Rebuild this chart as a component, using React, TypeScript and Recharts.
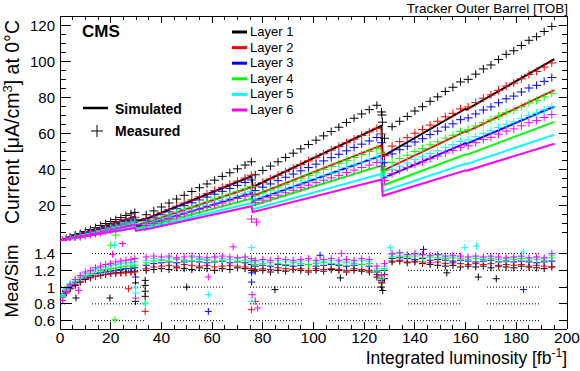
import { ComposedChart, Line, Scatter, XAxis, YAxis, ReferenceLine } from 'recharts';

const FONT = '"Liberation Sans", Arial, Helvetica, sans-serif';

const layerNames = ['Layer 1', 'Layer 2', 'Layer 3', 'Layer 4', 'Layer 5', 'Layer 6'];
const layerColors = ['#000000', '#ff0000', '#0000ff', '#00ff00', '#00ffff', '#ff00ff'];

// axis ticks
const lumiTicks = [0, 5, 10, 15, 20, 25, 30, 35, 40, 45, 50, 55, 60, 65, 70, 75, 80, 85, 90, 95, 100,
  105, 110, 115, 120, 125, 130, 135, 140, 145, 150, 155, 160, 165, 170, 175, 180, 185, 190, 195, 200];
const lumiLabels = [0, 20, 40, 60, 80, 100, 120, 140, 160, 180, 200];
const currentTicks = [0, 5, 10, 15, 20, 25, 30, 35, 40, 45, 50, 55, 60, 65, 70, 75, 80, 85, 90, 95, 100,
  105, 110, 115, 120, 125];
const currentLabels = [20, 40, 60, 80, 100, 120];
const ratioTicks = [0.6, 0.8, 1, 1.2, 1.4];
const ratioGrid = [0.6, 0.8, 1, 1.2, 1.4];

// simulated current (sawtooth from annealing periods)
const simLumi = [0, 6, 6.2, 29.5, 30, 33, 33.3, 75.5, 76, 126.8, 127.3, 160, 160.3, 195];
const simLayer1 = [0, 3.5, 3.2, 13.5, 10.5, 12.2, 11.8, 36, 30, 64, 47, 73.5, 73, 101];
const simLayer2 = [0, 2.9, 2.7, 11.2, 8.7, 10.1, 9.8, 29.9, 24.9, 53.1, 39, 61, 60.6, 83.8];
const simLayer3 = [0, 2.6, 2.4, 10, 7.8, 9, 8.7, 26.6, 22.2, 47.4, 34.8, 54.4, 54, 74.7];
const simLayer4 = [0, 2.3, 2.1, 8.8, 6.9, 8, 7.7, 23.6, 19.7, 41.9, 30.8, 48.1, 47.8, 66.2];
const simLayer5 = [0, 2, 1.9, 7.9, 6.1, 7.1, 6.9, 21.1, 17.6, 37.4, 27.5, 43, 42.7, 59.1];
const simLayer6 = [0, 1.9, 1.7, 7.2, 5.6, 6.5, 6.3, 19.3, 16.1, 34.2, 25.1, 39.3, 39, 54];

// measured current
const measLumi = [1, 2.5, 4, 6, 8, 10, 12, 14, 16, 18, 20, 22, 24, 26, 28, 29.5,
  34, 37, 40, 43, 46, 49, 52, 55, 58, 61, 64, 67, 70, 73, 75.5,
  77, 80, 83, 86, 89, 92, 95, 98, 101, 104, 107, 110, 113, 116, 119, 122, 125, 126.8,
  128, 131, 134, 137, 140, 143, 146, 149, 152, 155, 158, 161, 164, 167, 170, 173, 176, 179, 182, 185, 188, 191, 194];
const measLayer1 = [0.5, 1.35, 2.2, 3.4, 4.2, 5.3, 6.4, 7.4, 8.6, 9.7, 10.8, 11.9, 13.0, 14.2, 15.1, 15.9,
  14.6, 16.7, 18.9, 21.1, 23.3, 25.4, 27.5, 29.6, 31.7, 33.8, 35.9, 37.9, 40.1, 42.2, 44.0,
  36.8, 39.2, 41.6, 44.0, 46.4, 48.8, 51.2, 53.6, 56.0, 58.4, 60.8, 63.2, 65.8, 68.2, 70.6, 73.0, 75.4, 71.7,
  57.1, 63.5, 66.5, 69.2, 72.2, 74.6, 77.6, 80.1, 83.1, 85.4, 88.4, 89.8, 92.7, 95.6, 97.8, 100.8, 103.7, 105.7, 108.6, 111.5, 113.5, 116.4, 119.2];
const measLayer2 = [0.4, 1.1, 1.8, 2.8, 3.5, 4.4, 5.3, 6.1, 7.1, 8.1, 9.0, 9.9, 10.8, 11.8, 12.5, 13.2,
  12.1, 13.9, 15.7, 17.5, 19.3, 21.1, 22.8, 24.6, 26.3, 28.1, 29.8, 31.5, 33.3, 35.0, 36.5,
  30.5, 32.5, 34.5, 36.5, 38.5, 40.5, 42.5, 44.5, 46.5, 48.5, 50.5, 52.5, 54.6, 56.6, 58.6, 60.6, 62.6, 59.5,
  47.4, 52.7, 55.2, 57.4, 59.9, 61.9, 64.4, 66.5, 69.0, 70.9, 73.4, 74.5, 76.9, 79.3, 81.2, 83.7, 86.1, 87.7, 90.1, 92.5, 94.2, 96.6, 98.9];
const measLayer3 = [0.4, 1.0, 1.7, 2.6, 3.2, 4.0, 4.8, 5.6, 6.5, 7.3, 8.2, 9.0, 9.8, 10.7, 11.4, 12.0,
  11.2, 12.9, 14.6, 16.2, 17.9, 19.6, 21.2, 22.8, 24.4, 26.0, 27.6, 29.2, 30.9, 32.5, 33.9,
  28.0, 29.9, 31.7, 33.5, 35.4, 37.2, 39.0, 40.8, 42.7, 44.5, 46.3, 48.2, 50.1, 52.0, 53.8, 55.6, 57.5, 54.6,
  43.5, 48.4, 50.7, 52.7, 55.0, 56.8, 59.1, 61.0, 63.3, 65.1, 67.4, 68.4, 70.6, 72.8, 74.5, 76.8, 79.0, 80.5, 82.8, 85.0, 86.5, 88.7, 90.8];
const measLayer4 = [0.3, 0.9, 1.5, 2.3, 2.8, 3.6, 4.3, 5.0, 5.8, 6.5, 7.3, 8.0, 8.8, 9.6, 10.2, 10.7,
  10.0, 11.5, 13.0, 14.5, 16.0, 17.5, 18.9, 20.4, 21.8, 23.3, 24.7, 26.1, 27.6, 29.0, 30.3,
  25.1, 26.7, 28.3, 30.0, 31.6, 33.2, 34.9, 36.5, 38.1, 39.8, 41.4, 43.0, 44.8, 46.4, 48.1, 49.7, 51.3, 48.8,
  39.3, 43.7, 45.8, 47.6, 49.7, 51.3, 53.4, 55.1, 57.2, 58.8, 60.8, 61.8, 63.8, 65.8, 67.3, 69.4, 71.3, 72.7, 74.7, 76.7, 78.1, 80.1, 82.0];
const measLayer5 = [0.3, 0.8, 1.4, 2.1, 2.6, 3.3, 3.9, 4.5, 5.3, 6.0, 6.6, 7.3, 8.0, 8.7, 9.3, 9.8,
  9.1, 10.5, 11.8, 13.2, 14.6, 15.9, 17.2, 18.5, 19.8, 21.2, 22.5, 23.7, 25.1, 26.4, 27.5,
  22.8, 24.3, 25.8, 27.3, 28.8, 30.3, 31.7, 33.2, 34.7, 36.2, 37.7, 39.2, 40.8, 42.3, 43.8, 45.3, 46.7, 44.5,
  35.7, 39.8, 41.6, 43.3, 45.2, 46.7, 48.6, 50.1, 52.0, 53.5, 55.3, 56.2, 58.0, 59.8, 61.2, 63.1, 64.9, 66.2, 68.0, 69.8, 71.1, 72.9, 74.6];
const measLayer6 = [0.3, 0.8, 1.2, 1.9, 2.4, 3.0, 3.6, 4.2, 4.9, 5.5, 6.1, 6.7, 7.4, 8.1, 8.6, 9.0,
  8.6, 9.8, 11.1, 12.4, 13.7, 15.0, 16.2, 17.4, 18.7, 19.9, 21.1, 22.3, 23.6, 24.9, 25.9,
  21.3, 22.7, 24.0, 25.4, 26.8, 28.2, 29.6, 31.0, 32.4, 33.8, 35.1, 36.5, 38.0, 39.4, 40.8, 42.2, 43.6, 41.4,
  33.6, 37.4, 39.2, 40.8, 42.5, 43.9, 45.7, 47.2, 48.9, 50.3, 52.1, 52.9, 54.6, 56.3, 57.6, 59.4, 61.1, 62.3, 64.0, 65.7, 66.9, 68.6, 70.2];
// [lumi, current, layer index]
const measOutliers = [[22, 3.3, 3], [75.5, 12.2, 5], [77.5, 10.5, 5], [127, 70, 0], [127.2, 66, 0]];

// measured / simulated
const ratioLayer1 = [0.88, 0.93, 0.98, 1.02, 1.06, 1.09, 1.11, 1.13, 1.14, 1.15, 1.16, 1.17, 1.17, 1.18, 1.18, 1.19,
  1.2, 1.21, 1.22, 1.21, 1.23, 1.22, 1.21, 1.23, 1.22, 1.2, 1.22, 1.21, 1.23, 1.22, 1.2,
  1.19, 1.2, 1.18, 1.2, 1.19, 1.21, 1.2, 1.18, 1.2, 1.19, 1.21, 1.2, 1.18, 1.2, 1.19, 1.18, 1.12, 1.0,
  1.1, 1.3, 1.31, 1.29, 1.3, 1.28, 1.27, 1.26, 1.25, 1.26, 1.24, 1.25, 1.24, 1.25, 1.23, 1.25, 1.24, 1.23, 1.25, 1.24, 1.23, 1.22, 1.24];
const ratioLayer2 = [0.9, 0.95, 0.99, 1.03, 1.07, 1.1, 1.12, 1.13, 1.14, 1.15, 1.16, 1.16, 1.17, 1.17, 1.18, 1.18,
  1.22, 1.24, 1.25, 1.26, 1.25, 1.27, 1.26, 1.25, 1.26, 1.24, 1.25, 1.26, 1.25, 1.24, 1.22,
  1.21, 1.22, 1.21, 1.23, 1.22, 1.21, 1.22, 1.2, 1.22, 1.21, 1.22, 1.21, 1.2, 1.22, 1.21, 1.2, 1.15, 1.06,
  1.15, 1.31, 1.32, 1.3, 1.31, 1.3, 1.29, 1.3, 1.28, 1.29, 1.28, 1.27, 1.28, 1.27, 1.28, 1.26, 1.27, 1.26, 1.27, 1.25, 1.26, 1.25, 1.24];
const ratioLayer3 = [0.92, 0.97, 1.01, 1.05, 1.09, 1.12, 1.14, 1.16, 1.17, 1.18, 1.19, 1.2, 1.21, 1.22, 1.22, 1.23,
  1.26, 1.28, 1.29, 1.3, 1.29, 1.3, 1.31, 1.3, 1.29, 1.3, 1.31, 1.29, 1.3, 1.29, 1.27,
  1.25, 1.26, 1.25, 1.27, 1.26, 1.25, 1.26, 1.27, 1.25, 1.26, 1.27, 1.26, 1.25, 1.26, 1.27, 1.25, 1.18, 1.08,
  1.2, 1.34, 1.35, 1.34, 1.33, 1.34, 1.32, 1.33, 1.32, 1.31, 1.32, 1.31, 1.3, 1.31, 1.32, 1.3, 1.31, 1.3, 1.31, 1.3, 1.29, 1.3, 1.31];
const ratioLayer4 = [0.9, 0.98, 1.03, 1.07, 1.11, 1.14, 1.16, 1.18, 1.2, 1.21, 1.22, 1.23, 1.24, 1.25, 1.25, 1.26,
  1.29, 1.31, 1.32, 1.31, 1.33, 1.32, 1.31, 1.33, 1.32, 1.31, 1.32, 1.33, 1.31, 1.32, 1.3,
  1.27, 1.28, 1.29, 1.28, 1.27, 1.29, 1.28, 1.27, 1.28, 1.29, 1.28, 1.27, 1.29, 1.28, 1.27, 1.28, 1.2, 1.1,
  1.22, 1.36, 1.37, 1.36, 1.37, 1.35, 1.36, 1.35, 1.34, 1.35, 1.34, 1.33, 1.34, 1.33, 1.34, 1.33, 1.32, 1.33, 1.34, 1.32, 1.33, 1.32, 1.35];
const ratioLayer5 = [0.88, 0.97, 1.04, 1.09, 1.13, 1.16, 1.19, 1.21, 1.23, 1.24, 1.26, 1.27, 1.28, 1.29, 1.29, 1.3,
  1.32, 1.34, 1.33, 1.35, 1.34, 1.33, 1.35, 1.34, 1.33, 1.35, 1.34, 1.33, 1.34, 1.35, 1.32,
  1.3, 1.31, 1.3, 1.32, 1.31, 1.3, 1.31, 1.32, 1.3, 1.31, 1.32, 1.3, 1.31, 1.3, 1.32, 1.31, 1.22, 1.12,
  1.25, 1.39, 1.4, 1.38, 1.39, 1.38, 1.37, 1.38, 1.36, 1.37, 1.36, 1.35, 1.36, 1.35, 1.36, 1.35, 1.34, 1.35, 1.36, 1.34, 1.35, 1.34, 1.38];
const ratioLayer6 = [0.84, 0.95, 1.03, 1.09, 1.14, 1.18, 1.2, 1.23, 1.25, 1.27, 1.28, 1.3, 1.31, 1.32, 1.33, 1.34,
  1.36, 1.37, 1.36, 1.37, 1.35, 1.36, 1.37, 1.36, 1.35, 1.36, 1.37, 1.36, 1.35, 1.36, 1.34,
  1.32, 1.33, 1.32, 1.34, 1.33, 1.32, 1.33, 1.34, 1.32, 1.33, 1.34, 1.32, 1.33, 1.32, 1.34, 1.33, 1.25, 1.14,
  1.28, 1.4, 1.41, 1.39, 1.4, 1.39, 1.38, 1.39, 1.37, 1.38, 1.37, 1.36, 1.37, 1.36, 1.37, 1.36, 1.35, 1.36, 1.37, 1.35, 1.36, 1.35, 1.4];
// [lumi, ratio, layer index]
const ratioOutliers = [
  [20, 1.5, 3], [21.5, 1.5, 4], [24.6, 1.52, 5], [20.7, 1.39, 5], [27, 0.98, 1], [19.7, 0.87, 0],
  [6.3, 0.87, 0], [7.3, 0.96, 5], [21.7, 0.61, 3],
  [29.8, 1.12, 2], [29.8, 1.05, 0], [29.8, 0.99, 4], [29.8, 0.93, 4], [29.8, 0.87, 5], [29.8, 0.83, 0],
  [33.6, 1.08, 0], [33.6, 1.02, 0], [33.6, 0.95, 0], [33.6, 0.89, 0], [33.6, 0.81, 3], [33.6, 0.8, 4], [33.6, 0.71, 1],
  [58.5, 1.12, 5], [58.5, 0.91, 4], [58.5, 0.71, 2], [50, 1.0, 0],
  [75.6, 1.47, 4], [75.6, 1.17, 2], [75.6, 1.06, 2], [75.8, 0.91, 5], [75.6, 0.83, 4], [77, 0.83, 1],
  [78, 0.75, 5], [75.5, 0.73, 1], [68.3, 1.48, 5], [84.8, 0.97, 0],
  [102.6, 1.38, 2], [111, 1.4, 5], [110.6, 1.11, 0], [127, 1.05, 0], [127.3, 0.96, 0], [127, 1.1, 1],
  [130.3, 1.47, 4], [143.4, 1.45, 2], [152.6, 1.17, 0], [165, 1.12, 0], [159.7, 1.47, 4], [164.3, 1.49, 4],
  [172.1, 1.1, 0], [182.8, 0.97, 2], [182.7, 1.42, 4],
];

const simLayers = [simLayer1, simLayer2, simLayer3, simLayer4, simLayer5, simLayer6];
const measLayers = [measLayer1, measLayer2, measLayer3, measLayer4, measLayer5, measLayer6];
const ratioLayers = [ratioLayer1, ratioLayer2, ratioLayer3, ratioLayer4, ratioLayer5, ratioLayer6];

const toPoints = (xs: number[], ys: number[]) =>
  xs.map((x, i) => ({ x, y: ys[i] })).filter((p) => p.y !== undefined);

const outlierPoints = (rows: number[][], layer: number) =>
  rows.filter((r) => r[2] === layer).map((r) => ({ x: r[0], y: r[1] }));

const crossShape = (hw: number, hh: number, color: string) => (props: any) => {
  const { cx, cy } = props;
  if (cx == null || cy == null) return <g />;
  return (
    <path
      d={`M${cx - hw},${cy}H${cx + hw}M${cx},${cy - hh}V${cy + hh}`}
      stroke={color}
      strokeWidth={1}
      fill="none"
    />
  );
};

// ROOT-like ticks pointing into the frame
const xTick = (side: 'top' | 'bottom', majorLen: number, minorLen: number, labels: boolean) => (props: any) => {
  const { x, y, payload } = props;
  const v = payload.value;
  const major = lumiLabels.includes(v);
  const len = major ? majorLen : minorLen;
  const dir = side === 'bottom' ? -1 : 1;
  return (
    <g>
      <line x1={x} x2={x} y1={y} y2={y + dir * len} stroke="#000" shapeRendering="crispEdges" />
      {labels && major && (
        <text x={x} y={y + 14} textAnchor="middle" fontSize={15.5} fontFamily={FONT} fill="#000">
          {v}
        </text>
      )}
    </g>
  );
};

const yTick = (side: 'left' | 'right', isMajor: (v: number) => boolean, majorLen: number, minorLen: number,
  label: ((v: number) => string | null) | null) => (props: any) => {
  const { x, y, payload } = props;
  const v = payload.value;
  const major = isMajor(v);
  const len = major ? majorLen : minorLen;
  const dir = side === 'left' ? 1 : -1;
  const txt = label && major ? label(v) : null;
  return (
    <g>
      <line x1={x} x2={x + dir * len} y1={y} y2={y} stroke="#000" shapeRendering="crispEdges" />
      {txt && (
        <text x={x - 5} y={y + 5.5} textAnchor="end" fontSize={15} fontFamily={FONT} fill="#000">
          {txt}
        </text>
      )}
    </g>
  );
};

const frameLine = { stroke: '#000', strokeWidth: 1, shapeRendering: 'crispEdges' };
const DOTS = Array(17).fill('1 2').join(' ') + ' 1 27';

export default function App() {
  return (
    <div style={{ position: 'absolute', left: 0, top: 0, width: 580, height: 371, background: '#fff', fontFamily: FONT }}>
      {/* upper panel: current */}
      <div style={{ position: 'absolute', left: 0, top: 0 }}>
        <ComposedChart width={580} height={241} margin={{ top: 0, right: 0, bottom: 0, left: 0 }}>
          <XAxis dataKey="x" type="number" domain={[0, 200]} ticks={lumiTicks} interval={0} height={0}
            axisLine={frameLine} tickLine={false} tickSize={0} tickMargin={0}
            tick={xTick('bottom', 8, 4, false)} allowDataOverflow />
          <XAxis xAxisId="top" orientation="top" dataKey="x" type="number" domain={[0, 200]} ticks={lumiTicks}
            interval={0} height={16} axisLine={frameLine} tickLine={false} tickSize={0} tickMargin={0}
            tick={xTick('top', 7, 4, false)} allowDataOverflow />
          <YAxis dataKey="y" type="number" domain={[0, 125]} ticks={currentTicks} interval={0} width={60}
            axisLine={frameLine} tickLine={false} tickSize={0} tickMargin={0} allowDataOverflow
            tick={yTick('left', (v) => v % 20 === 0, 11, 6, (v) => (currentLabels.includes(v) ? String(v) : null))} />
          <YAxis yAxisId="r" orientation="right" type="number" domain={[0, 125]} ticks={currentTicks} interval={0}
            width={13} axisLine={frameLine} tickLine={false} tickSize={0} tickMargin={0} allowDataOverflow
            tick={yTick('right', (v) => v % 20 === 0, 8, 5, null)} />
          {layerNames.map((name, i) => [
            <Line key={`sim-${name}`} data={toPoints(simLumi, simLayers[i])} dataKey="y" type="linear"
              stroke={layerColors[i]} strokeWidth={2} dot={false} isAnimationActive={false} />,
            <Scatter key={`meas-${name}`} data={[...toPoints(measLumi, measLayers[i]), ...outlierPoints(measOutliers, i)]}
              dataKey="y" shape={crossShape(4.5, 4, layerColors[i])} isAnimationActive={false} />,
          ])}
        </ComposedChart>
      </div>

      {/* lower panel: ratio */}
      <div style={{ position: 'absolute', left: 0, top: 241 }}>
        <ComposedChart width={580} height={130} margin={{ top: 0, right: 0, bottom: 0, left: 0 }}>
          <XAxis dataKey="x" type="number" domain={[0, 200]} ticks={lumiTicks} interval={0} height={42}
            axisLine={frameLine} tickLine={false} tickSize={0} tickMargin={0}
            tick={xTick('bottom', 7, 4, true)} allowDataOverflow />
          <XAxis xAxisId="top" orientation="top" dataKey="x" type="number" domain={[0, 200]} ticks={lumiTicks}
            interval={0} height={0} axisLine={frameLine} tickLine={false} tickSize={0} tickMargin={0}
            tick={xTick('top', 6, 3, false)} allowDataOverflow />
          <YAxis dataKey="y" type="number" domain={[0.5, 1.55]} ticks={ratioTicks} interval={0} width={60}
            axisLine={frameLine} tickLine={false} tickSize={0} tickMargin={0} allowDataOverflow
            tick={yTick('left', () => true, 12, 6, (v) => String(Math.round(v * 10) / 10))} />
          <YAxis yAxisId="r" orientation="right" type="number" domain={[0.5, 1.55]} ticks={ratioTicks} interval={0}
            width={13} axisLine={frameLine} tickLine={false} tickSize={0} tickMargin={0} allowDataOverflow
            tick={yTick('right', () => true, 8, 4, null)} />
          {ratioGrid.map((v) => (
            <ReferenceLine key={`g-${v}`} y={v} stroke="#000" strokeWidth={1} strokeDasharray={DOTS}
              strokeDashoffset={47} />
          ))}
          {layerNames.map((name, i) => (
            <Scatter key={`ratio-${name}`}
              data={[...toPoints(measLumi, ratioLayers[i]), ...outlierPoints(ratioOutliers, i)]}
              dataKey="y" shape={crossShape(3.5, 3.5, layerColors[i])} isAnimationActive={false} />
          ))}
        </ComposedChart>
      </div>

      {/* titles and legends */}
      <svg width={580} height={371} style={{ position: 'absolute', left: 0, top: 0, pointerEvents: 'none' }}
        fontFamily={FONT} fill="#000">
        <text x={568} y={13} textAnchor="end" fontSize={13.5}>Tracker Outer Barrel [TOB]</text>
        <text x={82} y={37} fontSize={17} fontWeight="bold">CMS</text>
        {layerNames.map((name, i) => (
          <g key={`leg-${name}`}>
            <line x1={232} x2={247} y1={32 + 15.6 * i} y2={32 + 15.6 * i} stroke={layerColors[i]} strokeWidth={3} />
            <text x={250} y={36 + 15.6 * i} fontSize={13}>{name}</text>
          </g>
        ))}
        <line x1={83} x2={108} y1={108} y2={108} stroke="#000" strokeWidth={2.5} />
        <text x={115} y={113.5} fontSize={14} fontWeight="bold">Simulated</text>
        <path d="M91,131H103M97,125V137" stroke="#000" strokeWidth={1} />
        <text x={115} y={135.5} fontSize={14} fontWeight="bold">Measured</text>
        <text transform="translate(19,122) rotate(-90)" textAnchor="middle" fontSize={19.5}>
          Current [μA/cm<tspan dy={-7} fontSize={13}>3</tspan><tspan dy={7}>] at 0°C</tspan>
        </text>
        <text transform="translate(18,281) rotate(-90)" textAnchor="middle" fontSize={18.5}>Mea/Sim</text>
        <text x={567} y={364} textAnchor="end" fontSize={17.5}>
          Integrated luminosity [fb<tspan dy={-7} fontSize={12}>-1</tspan><tspan dy={7}>]</tspan>
        </text>
      </svg>
    </div>
  );
}
